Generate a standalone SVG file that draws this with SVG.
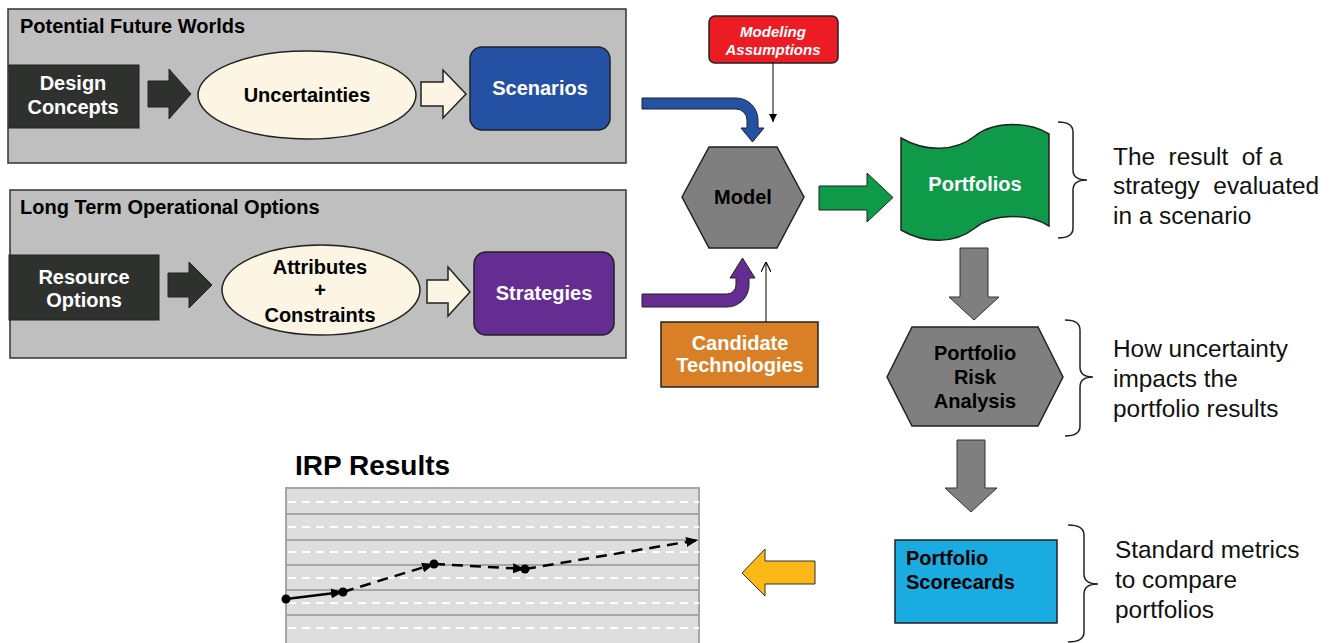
<svg xmlns="http://www.w3.org/2000/svg" width="1335" height="643" viewBox="0 0 1335 643">
<defs>
<style>
.panel{fill:#bfbfbf;stroke:#333;stroke-width:1.5}
.dark{fill:#2f312f;stroke:#222;stroke-width:1}
.cream{fill:#fcf5e3;stroke:#222;stroke-width:1.5}
.ol{stroke:#222;stroke-width:1.5}
.t{font-family:"Liberation Sans",Arial,sans-serif;font-weight:bold;font-size:20px}
.w{fill:#fff}
.k{fill:#000}
.c{text-anchor:middle}
.note{font-family:"Liberation Sans",Arial,sans-serif;font-size:24.4px;fill:#111;white-space:pre}
.brace{fill:none;stroke:#222;stroke-width:1.5}
</style>
<marker id="ah" viewBox="0 0 12 10" refX="12" refY="5" markerWidth="12" markerHeight="10" markerUnits="userSpaceOnUse" orient="auto"><path d="M0,0 L12,5 L0,10 Z" fill="#000"/></marker>
<marker id="ahs" viewBox="0 0 8 8" refX="8" refY="4" markerWidth="8" markerHeight="8" markerUnits="userSpaceOnUse" orient="auto"><path d="M0,0 L8,4 L0,8 Z" fill="#000"/></marker>
<marker id="aho" viewBox="0 0 10 10" refX="10" refY="5" markerWidth="10" markerHeight="10" markerUnits="userSpaceOnUse" orient="auto"><path d="M0,0 L10,5 L0,10" fill="none" stroke="#000" stroke-width="1.2"/></marker>
</defs>

<g id="panel-future">
<rect class="panel" x="8" y="9" width="618" height="154"/>
<text class="t k" x="20" y="33">Potential Future Worlds</text>
</g>
<g id="panel-options">
<rect class="panel" x="10" y="190" width="616" height="168"/>
<text class="t k" x="20" y="214">Long Term Operational Options</text>
</g>

<g id="design-concepts">
<rect class="dark" x="9" y="65" width="130" height="63"/>
<text class="t w c" x="73" y="90">Design</text>
<text class="t w c" x="73" y="114">Concepts</text>
</g>
<g id="uncertainties">
<ellipse class="cream" cx="307" cy="95" rx="109" ry="44"/>
<text class="t k c" x="307" y="102">Uncertainties</text>
</g>
<g id="scenarios">
<rect x="470" y="47" width="140" height="83" rx="12" fill="#2451a4" class="ol"/>
<text class="t w c" x="540" y="95">Scenarios</text>
</g>
<g id="resource-options">
<rect class="dark" x="9" y="255" width="150" height="65"/>
<text class="t w c" x="84" y="284">Resource</text>
<text class="t w c" x="84" y="307">Options</text>
</g>
<g id="attributes">
<ellipse class="cream" cx="321" cy="290" rx="99" ry="45"/>
<text class="t k c" x="320" y="274">Attributes</text>
<text class="t k c" x="320" y="297">+</text>
<text class="t k c" x="320" y="322">Constraints</text>
</g>
<g id="strategies">
<rect x="474" y="252" width="140" height="83" rx="12" fill="#652d91" class="ol"/>
<text class="t w c" x="544" y="300">Strategies</text>
</g>
<g id="modeling-assumptions">
<rect x="709" y="16" width="129" height="47" rx="6" fill="#ec1c24" class="ol"/>
<text class="t w c" x="773" y="37" font-style="italic" style="font-size:15px">Modeling</text>
<text class="t w c" x="773" y="55" font-style="italic" style="font-size:15px">Assumptions</text>
</g>
<g id="model">
<polygon points="682,197 709,147 777,147 804,197 777,248 709,248" fill="#7f7f7f" class="ol"/>
<text class="t k c" x="743" y="204">Model</text>
</g>
<g id="candidate-technologies">
<rect x="661" y="322" width="157" height="65" fill="#d98027" class="ol"/>
<text class="t w c" x="740" y="350">Candidate</text>
<text class="t w c" x="740" y="372">Technologies</text>
</g>
<g id="portfolios">
<path d="M901,138 C925,152 955,152 975,136 C995,120 1030,122 1049,134 L1049,226 C1030,214 995,212 975,228 C955,244 925,244 901,230 Z" fill="#0e9a48" class="ol"/>
<text class="t w c" x="975" y="191">Portfolios</text>
</g>
<g id="risk-analysis">
<polygon points="887,377 912,327 1038,327 1063,377 1038,426 912,426" fill="#7f7f7f" class="ol"/>
<text class="t k c" x="975" y="360">Portfolio</text>
<text class="t k c" x="975" y="384">Risk</text>
<text class="t k c" x="975" y="408">Analysis</text>
</g>
<g id="scorecards">
<rect x="895" y="540" width="162" height="83" fill="#1aabe0" class="ol"/>
<text class="t k" x="906" y="565">Portfolio</text>
<text class="t k" x="906" y="589">Scorecards</text>
</g>

<g id="notes">
<path class="brace" d="M1058,122 Q1073,122 1073,132 L1073,170 Q1073,180 1087,180 Q1073,180 1073,190 L1073,228 Q1073,238 1058,238"/>
<text class="note" x="1113" y="165">The  result  of a</text>
<text class="note" x="1113" y="194">strategy  evaluated</text>
<text class="note" x="1113" y="224">in a scenario</text>
<path class="brace" d="M1065,320 Q1080,320 1080,330 L1080,367 Q1080,377 1093,377 Q1080,377 1080,387 L1080,426 Q1080,436 1065,436"/>
<text class="note" x="1113" y="357">How uncertainty</text>
<text class="note" x="1113" y="387">impacts the</text>
<text class="note" x="1113" y="417">portfolio results</text>
<path class="brace" d="M1068,525 Q1084,525 1084,535 L1084,574 Q1084,584 1098,584 Q1084,584 1084,594 L1084,632 Q1084,642 1068,642"/>
<text class="note" x="1115" y="558">Standard metrics</text>
<text class="note" x="1115" y="588">to compare</text>
<text class="note" x="1115" y="618">portfolios</text>
</g>

<g id="irp-results">
<text class="t k" x="295" y="475" style="font-size:28px">IRP Results</text>
<rect x="286" y="488" width="413" height="156" fill="#dedede" stroke="#a6a6a6" stroke-width="2"/>
<g stroke="#a6a6a6" stroke-width="2">
<line x1="286" y1="514" x2="699" y2="514"/>
<line x1="286" y1="540" x2="699" y2="540"/>
<line x1="286" y1="565" x2="699" y2="565"/>
<line x1="286" y1="590" x2="699" y2="590"/>
<line x1="286" y1="615" x2="699" y2="615"/>
</g>
<g stroke="#fff" stroke-width="2" stroke-dasharray="8 6">
<line x1="288" y1="502" x2="699" y2="502"/>
<line x1="288" y1="527" x2="699" y2="527"/>
<line x1="288" y1="552" x2="699" y2="552"/>
<line x1="288" y1="578" x2="699" y2="578"/>
<line x1="288" y1="603" x2="699" y2="603"/>
<line x1="288" y1="628" x2="699" y2="628"/>
</g>
<g stroke="#000" stroke-width="2.5" fill="none">
<line x1="286" y1="599" x2="343" y2="592" marker-end="url(#ah)"/>
<g stroke-dasharray="11 7">
<line x1="343" y1="592" x2="434" y2="564" marker-end="url(#ah)"/>
<line x1="434" y1="564" x2="525" y2="569" marker-end="url(#ah)"/>
<line x1="525" y1="569" x2="698" y2="540" marker-end="url(#ah)"/>
</g>
</g>
<g fill="#000">
<circle cx="286" cy="599" r="4.5"/>
<circle cx="343" cy="592" r="4.5"/>
<circle cx="434" cy="564" r="4.5"/>
<circle cx="525" cy="569" r="4.5"/>
</g>
</g>

<g id="connectors">
<path d="M148,81 L169,81 L169,69 L191,94 L169,119 L169,107 L148,107 Z" fill="#2f312f" stroke="#222" stroke-width="1"/>
<path d="M421,82 L443,82 L443,70 L466,94 L443,118 L443,106 L421,106 Z" class="cream" stroke-width="1"/>
<path d="M168,273 L189,273 L189,262 L212,285 L189,308 L189,297 L168,297 Z" fill="#2f312f" stroke="#222" stroke-width="1"/>
<path d="M427,280 L448,280 L448,267 L470,292 L448,316 L448,303 L427,303 Z" class="cream" stroke-width="1"/>
<path d="M642,98 L736,98 A22,22 0 0 1 758,120 L758,128 L764,128 L752.5,142 L741,128 L747,128 L747,120 A11,11 0 0 0 736,109 L642,109 Z" fill="#2451a4" stroke="#222" stroke-width="1"/>
<path d="M642,307 L727,307 A22,22 0 0 0 749,285 L749,278 L755,278 L742.5,258 L730,278 L736,278 L736,285 A9,9 0 0 1 727,294 L642,294 Z" fill="#652d91" stroke="#222" stroke-width="1"/>
<line x1="773" y1="63" x2="773" y2="122" stroke="#000" stroke-width="1" marker-end="url(#ahs)"/>
<line x1="766" y1="322" x2="766" y2="262" stroke="#000" stroke-width="1" marker-end="url(#aho)"/>
<path d="M819,186 L867,186 L867,173 L893,197.5 L867,222 L867,210 L819,210 Z" fill="#0e9a48" stroke="#222" stroke-width="1"/>
<path d="M960,248 L988,248 L988,297 L999,297 L974,320 L949,297 L960,297 Z" fill="#7f7f7f" stroke="#333" stroke-width="1"/>
<path d="M957,440 L985,440 L985,488 L997,488 L971,512 L945,488 L957,488 Z" fill="#7f7f7f" stroke="#333" stroke-width="1"/>
<path d="M815,561 L765,561 L765,549 L742,573 L765,596 L765,584 L815,584 Z" fill="#fbb917" stroke="#333" stroke-width="1"/>
</g>
</svg>
